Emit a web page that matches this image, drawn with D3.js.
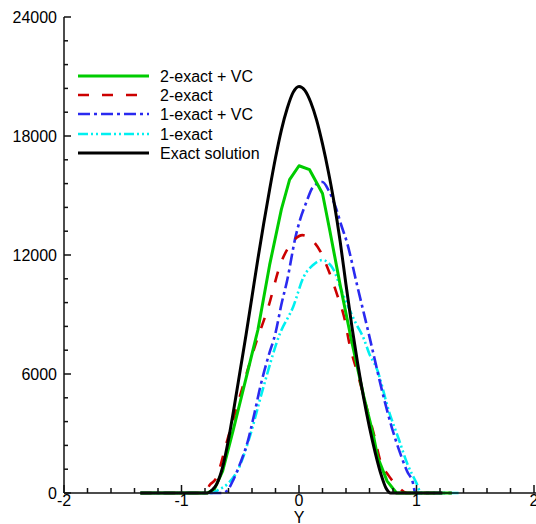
<!DOCTYPE html>
<html><head><meta charset="utf-8">
<script src="https://cdn.jsdelivr.net/npm/d3@7"></script>
<style>body{margin:0;background:#fff}svg{display:block}text{font-family:"Liberation Sans",Arial,sans-serif}</style>
</head><body>
<svg id="c" width="536" height="524"></svg>
<script>
// ---- data ----
const xTicks = [-2, -1, 0, 1, 2];
const yTicks = [0, 6000, 12000, 18000, 24000];
const xTitle = "Y";

const blackX = [-1.35,-0.78,-0.74,-0.7,-0.65,-0.6,-0.55,-0.5,-0.45,-0.4,-0.35,-0.3,-0.25,-0.2,-0.15,-0.1,-0.05,0,0.05,0.1,0.15,0.2,0.25,0.3,0.35,0.4,0.45,0.5,0.55,0.6,0.65,0.7,0.74,0.78,1.22];
const blackY = [0,0,150,450,1300,2700,4400,6200,8000,9900,11800,13600,15300,16900,18300,19400,20200,20500,20300,19700,18800,17600,16200,14600,12700,10500,8400,6500,4800,3300,2000,900,250,0,0];

const greenX = [-1.35,-0.78,-0.72,-0.65,-0.56,-0.45,-0.35,-0.25,-0.15,-0.08,0,0.09,0.2,0.26,0.35,0.45,0.55,0.63,0.67,0.75,0.83,1.3];
const greenY = [0,0,200,1100,3176,5800,8219,11500,14300,15800,16500,16300,15100,13300,10500,7600,4900,3000,1800,600,0,0];

const redX = [-1.35,-0.8,-0.76,-0.71,-0.61,-0.48,-0.37,-0.26,-0.16,-0.05,0.03,0.12,0.18,0.24,0.32,0.39,0.43,0.5,0.58,0.64,0.69,0.76,0.83,0.92,1.3];
const redY = [0,0,400,700,2670,5340,7500,9400,11500,12700,13000,12700,12200,11400,10080,8720,7500,6000,4200,2900,1660,900,400,0,0];

const blueX = [-1.35,-0.65,-0.6,-0.56,-0.5,-0.44,-0.38,-0.33,-0.26,-0.2,-0.15,-0.1,-0.03,0.01,0.06,0.12,0.2,0.25,0.32,0.36,0.41,0.49,0.58,0.62,0.72,0.79,0.86,0.92,0.97,0.99,1.3];
const blueY = [0,0,200,650,1500,2520,4000,5340,6900,8070,9500,10740,12900,13800,14620,15430,15680,15280,14270,13500,12600,10590,8370,7360,4840,3300,2020,1100,500,0,0];

const cyanX = [-1.35,-0.74,-0.69,-0.6,-0.52,-0.42,-0.31,-0.16,-0.05,0.04,0.12,0.2,0.25,0.29,0.37,0.48,0.55,0.6,0.66,0.77,0.85,0.92,1.0,1.04,1.37];
const cyanY = [0,0,150,500,1160,2820,5190,8070,9380,10900,11500,11750,11600,11300,10080,8600,7800,7000,6300,4030,2700,1500,500,0,0];

const seriesNames = ["2-exact + VC", "2-exact", "1-exact + VC", "1-exact", "Exact solution"];

// ---- styles ----
const styles = [
  {color:"#00cc00", width:3, dash:null, curve:d3.curveLinear},
  {color:"#cc0000", width:2.6, dash:"11,13", curve:d3.curveMonotoneX},
  {color:"#2a2af0", width:2.6, dash:"12,4,3,4", curve:d3.curveMonotoneX},
  {color:"#00f0f0", width:2.6, dash:"10,3,2,3,2,3", curve:d3.curveMonotoneX},
  {color:"#000000", width:3, dash:null, curve:d3.curveMonotoneX}
];
const seriesData = [
  [greenX, greenY], [redX, redY], [blueX, blueY], [cyanX, cyanY], [blackX, blackY]
];

const svg = d3.select("#c");
const x = d3.scaleLinear().domain([-2, 2]).range([64, 534]);
const y = d3.scaleLinear().domain([0, 24000]).range([493, 17]);

// curves (draw order: cyan, blue, red, green, black)
const drawOrder = [3, 2, 1, 0, 4];
drawOrder.forEach(i => {
  const [xs, ys] = seriesData[i];
  const pts = xs.map((v, k) => [v, ys[k]]);
  const st = styles[i];
  svg.append("path")
    .attr("d", d3.line().x(d => x(d[0])).y(d => y(d[1])).curve(st.curve)(pts))
    .attr("fill", "none").attr("stroke", st.color).attr("stroke-width", st.width)
    .attr("stroke-dasharray", st.dash).attr("stroke-linejoin", "round");
});

// axes
const ax = svg.append("g").attr("stroke", "#111").attr("stroke-width", 1.5);
ax.append("line").attr("x1", x(-2)).attr("x2", 536).attr("y1", y(0)).attr("y2", y(0));
ax.append("line").attr("x1", x(-2)).attr("x2", x(-2)).attr("y1", y(0)).attr("y2", y(24000));
d3.range(-2, 2.0001, 0.2).forEach(v => {
  const major = Math.abs(v - Math.round(v)) < 1e-6;
  ax.append("line").attr("x1", x(v)).attr("x2", x(v)).attr("y1", y(0)).attr("y2", y(0) - (major ? 8 : 5));
});
d3.range(0, 24000.1, 1200).forEach(v => {
  const major = v % 6000 === 0;
  ax.append("line").attr("x1", x(-2)).attr("x2", x(-2) + (major ? 7 : 4)).attr("y1", y(v)).attr("y2", y(v));
});
// tick labels
xTicks.forEach(v => {
  svg.append("text").attr("x", x(v)).attr("y", 506).attr("text-anchor", "middle")
    .attr("font-size", 16).text(v);
});
yTicks.forEach(v => {
  svg.append("text").attr("x", 57).attr("y", y(v) + 6).attr("text-anchor", "end")
    .attr("font-size", 16).text(v);
});
svg.append("text").attr("x", x(0)).attr("y", 523).attr("text-anchor", "middle")
  .attr("font-size", 16).text(xTitle);

// legend
const legY = [76, 95, 114, 134, 153];
seriesNames.forEach((name, i) => {
  const st = styles[i];
  svg.append("line").attr("x1", 78).attr("x2", 149).attr("y1", legY[i]).attr("y2", legY[i])
    .attr("stroke", st.color).attr("stroke-width", st.width).attr("stroke-dasharray", st.dash);
  svg.append("text").attr("x", 160).attr("y", legY[i] + 6).attr("font-size", 16).text(name);
});
</script>
</body></html>
